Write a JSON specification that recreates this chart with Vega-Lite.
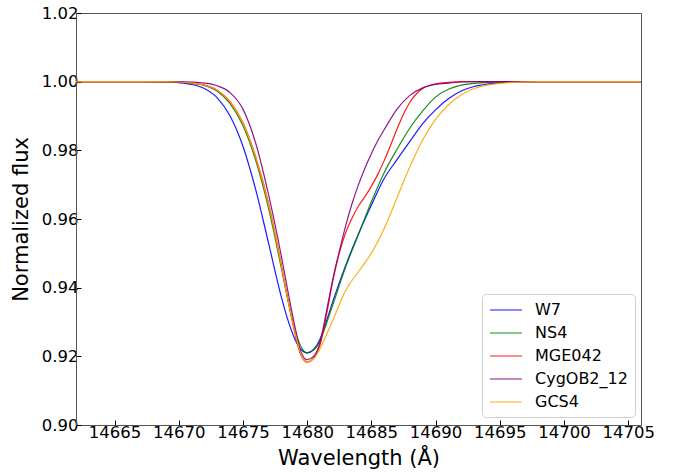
{
"$schema": "https://vega.github.io/schema/vega-lite/v6.json",
"width": 565, "height": 412,
"autosize": {"type": "none"},
"padding": {"left": 76, "top": 13, "right": 41, "bottom": 47},
"config": {"view": {"stroke": "#555", "strokeWidth": 1}, "font": "DejaVu Sans"},
"data": {"values": [
{"s":"W7","w":14662,"f":1.0},{"s":"W7","w":14666,"f":1.0},{"s":"W7","w":14668,"f":0.99995},{"s":"W7","w":14669,"f":0.9999},{"s":"W7","w":14670,"f":0.9997},{"s":"W7","w":14671,"f":0.9992},{"s":"W7","w":14672,"f":0.998},{"s":"W7","w":14673,"f":0.9953},{"s":"W7","w":14674,"f":0.99},{"s":"W7","w":14675,"f":0.9812},{"s":"W7","w":14676,"f":0.9685},{"s":"W7","w":14677,"f":0.9529},{"s":"W7","w":14678,"f":0.9372},{"s":"W7","w":14678.5,"f":0.9306},{"s":"W7","w":14679,"f":0.9254},{"s":"W7","w":14679.5,"f":0.9221},{"s":"W7","w":14680,"f":0.921},{"s":"W7","w":14680.5,"f":0.922},{"s":"W7","w":14681,"f":0.925},{"s":"W7","w":14681.5,"f":0.9302},{"s":"W7","w":14682,"f":0.936},{"s":"W7","w":14683,"f":0.9465},{"s":"W7","w":14684,"f":0.9557},{"s":"W7","w":14685,"f":0.964},{"s":"W7","w":14686,"f":0.9718},{"s":"W7","w":14687,"f":0.9773},{"s":"W7","w":14688,"f":0.9826},{"s":"W7","w":14689,"f":0.9878},{"s":"W7","w":14690,"f":0.9918},{"s":"W7","w":14691,"f":0.995},{"s":"W7","w":14692,"f":0.9973},{"s":"W7","w":14693,"f":0.9986},{"s":"W7","w":14694,"f":0.9993},{"s":"W7","w":14695,"f":0.9997},{"s":"W7","w":14696,"f":0.9999},{"s":"W7","w":14698,"f":1.0},{"s":"W7","w":14706,"f":1.0},
{"s":"NS4","w":14662,"f":1.0},{"s":"NS4","w":14668,"f":1.0},{"s":"NS4","w":14669,"f":0.99995},{"s":"NS4","w":14670,"f":0.9999},{"s":"NS4","w":14671,"f":0.9995},{"s":"NS4","w":14672,"f":0.9989},{"s":"NS4","w":14673,"f":0.9972},{"s":"NS4","w":14674,"f":0.9936},{"s":"NS4","w":14675,"f":0.9872},{"s":"NS4","w":14676,"f":0.977},{"s":"NS4","w":14677,"f":0.963},{"s":"NS4","w":14678,"f":0.9455},{"s":"NS4","w":14678.5,"f":0.9365},{"s":"NS4","w":14679,"f":0.9285},{"s":"NS4","w":14679.5,"f":0.923},{"s":"NS4","w":14680,"f":0.921},{"s":"NS4","w":14680.5,"f":0.9218},{"s":"NS4","w":14681,"f":0.9245},{"s":"NS4","w":14681.5,"f":0.9295},{"s":"NS4","w":14682,"f":0.935},{"s":"NS4","w":14683,"f":0.946},{"s":"NS4","w":14684,"f":0.9555},{"s":"NS4","w":14685,"f":0.965},{"s":"NS4","w":14686,"f":0.9735},{"s":"NS4","w":14687,"f":0.9803},{"s":"NS4","w":14688,"f":0.9865},{"s":"NS4","w":14689,"f":0.9915},{"s":"NS4","w":14690,"f":0.9955},{"s":"NS4","w":14691,"f":0.9978},{"s":"NS4","w":14692,"f":0.999},{"s":"NS4","w":14693,"f":0.9995},{"s":"NS4","w":14694,"f":0.9998},{"s":"NS4","w":14695,"f":0.9999},{"s":"NS4","w":14696,"f":1.0},{"s":"NS4","w":14706,"f":1.0},
{"s":"MGE042","w":14662,"f":1.0},{"s":"MGE042","w":14669,"f":1.0},{"s":"MGE042","w":14670,"f":0.9999},{"s":"MGE042","w":14671,"f":0.9996},{"s":"MGE042","w":14672,"f":0.999},{"s":"MGE042","w":14673,"f":0.9975},{"s":"MGE042","w":14674,"f":0.9942},{"s":"MGE042","w":14675,"f":0.988},{"s":"MGE042","w":14676,"f":0.978},{"s":"MGE042","w":14677,"f":0.9645},{"s":"MGE042","w":14678,"f":0.9465},{"s":"MGE042","w":14678.5,"f":0.9365},{"s":"MGE042","w":14679,"f":0.9275},{"s":"MGE042","w":14679.5,"f":0.9205},{"s":"MGE042","w":14680,"f":0.9183},{"s":"MGE042","w":14680.5,"f":0.9195},{"s":"MGE042","w":14681,"f":0.9232},{"s":"MGE042","w":14681.5,"f":0.932},{"s":"MGE042","w":14682,"f":0.942},{"s":"MGE042","w":14682.5,"f":0.95},{"s":"MGE042","w":14683,"f":0.956},{"s":"MGE042","w":14683.5,"f":0.9603},{"s":"MGE042","w":14684,"f":0.9638},{"s":"MGE042","w":14684.5,"f":0.9665},{"s":"MGE042","w":14685,"f":0.9695},{"s":"MGE042","w":14685.5,"f":0.973},{"s":"MGE042","w":14686,"f":0.977},{"s":"MGE042","w":14686.5,"f":0.9815},{"s":"MGE042","w":14687,"f":0.9862},{"s":"MGE042","w":14687.5,"f":0.9905},{"s":"MGE042","w":14688,"f":0.994},{"s":"MGE042","w":14688.5,"f":0.9964},{"s":"MGE042","w":14689,"f":0.998},{"s":"MGE042","w":14690,"f":0.9994},{"s":"MGE042","w":14691,"f":0.9998},{"s":"MGE042","w":14692,"f":1.0},{"s":"MGE042","w":14706,"f":1.0},
{"s":"CygOB2_12","w":14662,"f":1.0},{"s":"CygOB2_12","w":14670,"f":1.0},{"s":"CygOB2_12","w":14671,"f":0.9999},{"s":"CygOB2_12","w":14672,"f":0.9996},{"s":"CygOB2_12","w":14673,"f":0.9988},{"s":"CygOB2_12","w":14674,"f":0.9968},{"s":"CygOB2_12","w":14675,"f":0.992},{"s":"CygOB2_12","w":14676,"f":0.982},{"s":"CygOB2_12","w":14677,"f":0.967},{"s":"CygOB2_12","w":14678,"f":0.949},{"s":"CygOB2_12","w":14678.5,"f":0.939},{"s":"CygOB2_12","w":14679,"f":0.9295},{"s":"CygOB2_12","w":14679.5,"f":0.9215},{"s":"CygOB2_12","w":14680,"f":0.919},{"s":"CygOB2_12","w":14680.5,"f":0.92},{"s":"CygOB2_12","w":14681,"f":0.924},{"s":"CygOB2_12","w":14681.5,"f":0.933},{"s":"CygOB2_12","w":14682,"f":0.9425},{"s":"CygOB2_12","w":14682.5,"f":0.9505},{"s":"CygOB2_12","w":14683,"f":0.958},{"s":"CygOB2_12","w":14683.5,"f":0.9645},{"s":"CygOB2_12","w":14684,"f":0.97},{"s":"CygOB2_12","w":14684.5,"f":0.9748},{"s":"CygOB2_12","w":14685,"f":0.979},{"s":"CygOB2_12","w":14685.5,"f":0.9828},{"s":"CygOB2_12","w":14686,"f":0.986},{"s":"CygOB2_12","w":14687,"f":0.992},{"s":"CygOB2_12","w":14688,"f":0.996},{"s":"CygOB2_12","w":14689,"f":0.9982},{"s":"CygOB2_12","w":14690,"f":0.9992},{"s":"CygOB2_12","w":14691,"f":0.9996},{"s":"CygOB2_12","w":14692,"f":0.9999},{"s":"CygOB2_12","w":14693,"f":1.0},{"s":"CygOB2_12","w":14706,"f":1.0},
{"s":"GCS4","w":14662,"f":1.0},{"s":"GCS4","w":14669,"f":1.0},{"s":"GCS4","w":14670,"f":0.9999},{"s":"GCS4","w":14671,"f":0.9996},{"s":"GCS4","w":14672,"f":0.999},{"s":"GCS4","w":14673,"f":0.9975},{"s":"GCS4","w":14674,"f":0.9941},{"s":"GCS4","w":14675,"f":0.9879},{"s":"GCS4","w":14676,"f":0.9779},{"s":"GCS4","w":14677,"f":0.9643},{"s":"GCS4","w":14678,"f":0.9463},{"s":"GCS4","w":14678.5,"f":0.9365},{"s":"GCS4","w":14679,"f":0.928},{"s":"GCS4","w":14679.5,"f":0.9208},{"s":"GCS4","w":14680,"f":0.9185},{"s":"GCS4","w":14680.5,"f":0.9192},{"s":"GCS4","w":14681,"f":0.9222},{"s":"GCS4","w":14681.5,"f":0.9262},{"s":"GCS4","w":14682,"f":0.9305},{"s":"GCS4","w":14683,"f":0.9392},{"s":"GCS4","w":14684,"f":0.9447},{"s":"GCS4","w":14685,"f":0.95},{"s":"GCS4","w":14686,"f":0.9572},{"s":"GCS4","w":14687,"f":0.9662},{"s":"GCS4","w":14688,"f":0.9752},{"s":"GCS4","w":14689,"f":0.983},{"s":"GCS4","w":14690,"f":0.989},{"s":"GCS4","w":14691,"f":0.9932},{"s":"GCS4","w":14692,"f":0.9962},{"s":"GCS4","w":14693,"f":0.998},{"s":"GCS4","w":14694,"f":0.999},{"s":"GCS4","w":14695,"f":0.9995},{"s":"GCS4","w":14696,"f":0.9998},{"s":"GCS4","w":14698,"f":1.0},{"s":"GCS4","w":14706,"f":1.0}
]},
"mark": {"type": "line", "strokeWidth": 1.2, "opacity": 0.9, "interpolate": "monotone", "clip": true},
"encoding": {
  "x": {"field": "w", "type": "quantitative",
    "scale": {"domain": [14662, 14706], "nice": false, "zero": false},
    "axis": {"title": "Wavelength (Å)", "values": [14665,14670,14675,14680,14685,14690,14695,14700,14705], "format": "d", "grid": false,
      "tickSize": -5, "tickColor": "#000", "domainColor": "#555", "labelFontSize": 16.5, "labelColor": "#000", "labelPadding": 4,
      "titleFontSize": 21, "titleFontWeight": "normal", "titleColor": "#000", "titlePadding": 7}},
  "y": {"field": "f", "type": "quantitative",
    "scale": {"domain": [0.90, 1.02], "nice": false, "zero": false},
    "axis": {"title": "Normalized flux", "values": [0.90,0.92,0.94,0.96,0.98,1.00,1.02], "format": ".2f", "grid": false,
      "tickSize": -5, "tickColor": "#000", "domainColor": "#555", "labelFontSize": 16.5, "labelColor": "#000", "labelPadding": 3,
      "titleFontSize": 21, "titleFontWeight": "normal", "titleColor": "#000", "titlePadding": 10}},
  "color": {"field": "s", "type": "nominal",
    "scale": {"domain": ["W7","NS4","MGE042","CygOB2_12","GCS4"], "range": ["#0000ff","#008000","#ff0000","#800080","#ffa500"]},
    "legend": {"title": null, "orient": "none", "legendX": 406, "legendY": 281, "symbolType": "M-1,0H3", "symbolSize": 256,
      "symbolStrokeWidth": 1.3, "symbolOpacity": 0.7, "labelFontSize": 16, "labelColor": "#000", "labelOffset": 28,
      "padding": 7, "rowPadding": 6, "strokeColor": "#d0d0d0", "fillColor": "#ffffff", "cornerRadius": 4}}
}
}
